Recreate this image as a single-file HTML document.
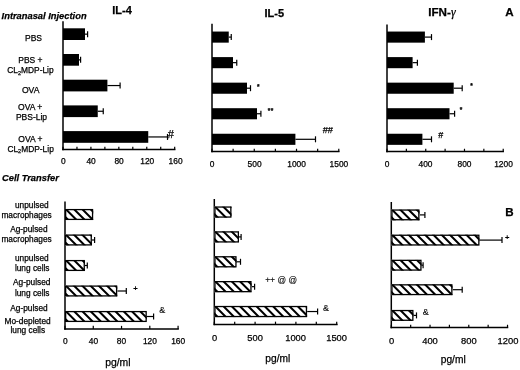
<!DOCTYPE html>
<html><head><meta charset="utf-8"><title>Figure</title>
<style>
html,body{margin:0;padding:0;background:#fff;}
body{width:520px;height:370px;overflow:hidden;}
svg{display:block;font-family:'Liberation Sans', sans-serif;fill:#000;}
text{stroke:#000;stroke-width:0.25px;}
</style></head><body>
<svg width="520" height="370" viewBox="0 0 520 370">
<rect x="0" y="0" width="520" height="370" fill="#fff"/>
<line x1="63.00" y1="21.30" x2="63.00" y2="150.25" stroke="#000" stroke-width="1.5"/>
<line x1="62.25" y1="149.50" x2="175.45" y2="149.50" stroke="#000" stroke-width="1.5"/>
<line x1="63.00" y1="149.50" x2="63.00" y2="146.75" stroke="#000" stroke-width="1.2"/>
<line x1="76.96" y1="149.50" x2="76.96" y2="146.75" stroke="#000" stroke-width="1.2"/>
<line x1="90.92" y1="149.50" x2="90.92" y2="146.75" stroke="#000" stroke-width="1.2"/>
<line x1="104.88" y1="149.50" x2="104.88" y2="146.75" stroke="#000" stroke-width="1.2"/>
<line x1="118.84" y1="149.50" x2="118.84" y2="146.75" stroke="#000" stroke-width="1.2"/>
<line x1="132.80" y1="149.50" x2="132.80" y2="146.75" stroke="#000" stroke-width="1.2"/>
<line x1="146.76" y1="149.50" x2="146.76" y2="146.75" stroke="#000" stroke-width="1.2"/>
<line x1="160.72" y1="149.50" x2="160.72" y2="146.75" stroke="#000" stroke-width="1.2"/>
<line x1="174.68" y1="149.50" x2="174.68" y2="146.75" stroke="#000" stroke-width="1.2"/>
<line x1="85.00" y1="34.15" x2="87.60" y2="34.15" stroke="#000" stroke-width="1.2"/>
<line x1="87.60" y1="31.15" x2="87.60" y2="37.15" stroke="#000" stroke-width="1.2"/>
<rect x="63.00" y="28.30" width="22.00" height="11.70" fill="#000"/>
<line x1="79.00" y1="59.85" x2="80.60" y2="59.85" stroke="#000" stroke-width="1.2"/>
<line x1="80.60" y1="56.85" x2="80.60" y2="62.85" stroke="#000" stroke-width="1.2"/>
<rect x="63.00" y="54.00" width="16.00" height="11.70" fill="#000"/>
<line x1="107.40" y1="85.55" x2="120.10" y2="85.55" stroke="#000" stroke-width="1.2"/>
<line x1="120.10" y1="82.55" x2="120.10" y2="88.55" stroke="#000" stroke-width="1.2"/>
<rect x="63.00" y="79.70" width="44.40" height="11.70" fill="#000"/>
<line x1="97.75" y1="111.25" x2="103.25" y2="111.25" stroke="#000" stroke-width="1.2"/>
<line x1="103.25" y1="108.25" x2="103.25" y2="114.25" stroke="#000" stroke-width="1.2"/>
<rect x="63.00" y="105.40" width="34.75" height="11.70" fill="#000"/>
<line x1="148.25" y1="136.95" x2="167.50" y2="136.95" stroke="#000" stroke-width="1.2"/>
<line x1="167.50" y1="133.95" x2="167.50" y2="139.95" stroke="#000" stroke-width="1.2"/>
<rect x="63.00" y="131.10" width="85.25" height="11.70" fill="#000"/>
<text x="63.30" y="164.20" font-size="8.4" text-anchor="middle" font-weight="normal" font-style="normal" >0</text>
<text x="91.10" y="164.20" font-size="8.4" text-anchor="middle" font-weight="normal" font-style="normal" >40</text>
<text x="119.10" y="164.20" font-size="8.4" text-anchor="middle" font-weight="normal" font-style="normal" >80</text>
<text x="147.30" y="164.20" font-size="8.4" text-anchor="middle" font-weight="normal" font-style="normal" >120</text>
<text x="175.60" y="164.20" font-size="8.4" text-anchor="middle" font-weight="normal" font-style="normal" >160</text>
<line x1="212.00" y1="23.75" x2="212.00" y2="152.25" stroke="#000" stroke-width="1.5"/>
<line x1="211.25" y1="151.50" x2="339.55" y2="151.50" stroke="#000" stroke-width="1.5"/>
<line x1="212.00" y1="151.50" x2="212.00" y2="148.75" stroke="#000" stroke-width="1.2"/>
<line x1="233.13" y1="151.50" x2="233.13" y2="148.75" stroke="#000" stroke-width="1.2"/>
<line x1="254.26" y1="151.50" x2="254.26" y2="148.75" stroke="#000" stroke-width="1.2"/>
<line x1="275.39" y1="151.50" x2="275.39" y2="148.75" stroke="#000" stroke-width="1.2"/>
<line x1="296.52" y1="151.50" x2="296.52" y2="148.75" stroke="#000" stroke-width="1.2"/>
<line x1="317.65" y1="151.50" x2="317.65" y2="148.75" stroke="#000" stroke-width="1.2"/>
<line x1="338.78" y1="151.50" x2="338.78" y2="148.75" stroke="#000" stroke-width="1.2"/>
<line x1="228.75" y1="37.10" x2="231.25" y2="37.10" stroke="#000" stroke-width="1.2"/>
<line x1="231.25" y1="34.10" x2="231.25" y2="40.10" stroke="#000" stroke-width="1.2"/>
<rect x="212.00" y="31.55" width="16.75" height="11.10" fill="#000"/>
<line x1="233.00" y1="62.65" x2="236.75" y2="62.65" stroke="#000" stroke-width="1.2"/>
<line x1="236.75" y1="59.65" x2="236.75" y2="65.65" stroke="#000" stroke-width="1.2"/>
<rect x="212.00" y="57.10" width="21.00" height="11.10" fill="#000"/>
<line x1="247.00" y1="88.20" x2="250.50" y2="88.20" stroke="#000" stroke-width="1.2"/>
<line x1="250.50" y1="85.20" x2="250.50" y2="91.20" stroke="#000" stroke-width="1.2"/>
<rect x="212.00" y="82.65" width="35.00" height="11.10" fill="#000"/>
<line x1="257.00" y1="113.75" x2="260.90" y2="113.75" stroke="#000" stroke-width="1.2"/>
<line x1="260.90" y1="110.75" x2="260.90" y2="116.75" stroke="#000" stroke-width="1.2"/>
<rect x="212.00" y="108.20" width="45.00" height="11.10" fill="#000"/>
<line x1="295.40" y1="139.30" x2="315.50" y2="139.30" stroke="#000" stroke-width="1.2"/>
<line x1="315.50" y1="136.30" x2="315.50" y2="142.30" stroke="#000" stroke-width="1.2"/>
<rect x="212.00" y="133.75" width="83.40" height="11.10" fill="#000"/>
<text x="212.00" y="167.40" font-size="8.4" text-anchor="middle" font-weight="normal" font-style="normal" >0</text>
<text x="254.60" y="167.40" font-size="8.4" text-anchor="middle" font-weight="normal" font-style="normal" >500</text>
<text x="296.60" y="167.40" font-size="8.4" text-anchor="middle" font-weight="normal" font-style="normal" >1000</text>
<text x="338.90" y="167.40" font-size="8.4" text-anchor="middle" font-weight="normal" font-style="normal" >1500</text>
<line x1="387.00" y1="24.60" x2="387.00" y2="152.25" stroke="#000" stroke-width="1.5"/>
<line x1="386.25" y1="151.50" x2="503.95" y2="151.50" stroke="#000" stroke-width="1.5"/>
<line x1="387.00" y1="151.50" x2="387.00" y2="148.75" stroke="#000" stroke-width="1.2"/>
<line x1="406.37" y1="151.50" x2="406.37" y2="148.75" stroke="#000" stroke-width="1.2"/>
<line x1="425.74" y1="151.50" x2="425.74" y2="148.75" stroke="#000" stroke-width="1.2"/>
<line x1="445.11" y1="151.50" x2="445.11" y2="148.75" stroke="#000" stroke-width="1.2"/>
<line x1="464.48" y1="151.50" x2="464.48" y2="148.75" stroke="#000" stroke-width="1.2"/>
<line x1="483.85" y1="151.50" x2="483.85" y2="148.75" stroke="#000" stroke-width="1.2"/>
<line x1="503.22" y1="151.50" x2="503.22" y2="148.75" stroke="#000" stroke-width="1.2"/>
<line x1="424.90" y1="37.10" x2="431.50" y2="37.10" stroke="#000" stroke-width="1.2"/>
<line x1="431.50" y1="34.10" x2="431.50" y2="40.10" stroke="#000" stroke-width="1.2"/>
<rect x="387.00" y="31.55" width="37.90" height="11.10" fill="#000"/>
<line x1="412.60" y1="62.65" x2="417.40" y2="62.65" stroke="#000" stroke-width="1.2"/>
<line x1="417.40" y1="59.65" x2="417.40" y2="65.65" stroke="#000" stroke-width="1.2"/>
<rect x="387.00" y="57.10" width="25.60" height="11.10" fill="#000"/>
<line x1="453.70" y1="88.20" x2="462.20" y2="88.20" stroke="#000" stroke-width="1.2"/>
<line x1="462.20" y1="85.20" x2="462.20" y2="91.20" stroke="#000" stroke-width="1.2"/>
<rect x="387.00" y="82.65" width="66.70" height="11.10" fill="#000"/>
<line x1="449.50" y1="113.75" x2="454.60" y2="113.75" stroke="#000" stroke-width="1.2"/>
<line x1="454.60" y1="110.75" x2="454.60" y2="116.75" stroke="#000" stroke-width="1.2"/>
<rect x="387.00" y="108.20" width="62.50" height="11.10" fill="#000"/>
<line x1="422.40" y1="139.30" x2="431.50" y2="139.30" stroke="#000" stroke-width="1.2"/>
<line x1="431.50" y1="136.30" x2="431.50" y2="142.30" stroke="#000" stroke-width="1.2"/>
<rect x="387.00" y="133.75" width="35.40" height="11.10" fill="#000"/>
<text x="387.00" y="167.40" font-size="8.4" text-anchor="middle" font-weight="normal" font-style="normal" >0</text>
<text x="425.50" y="167.40" font-size="8.4" text-anchor="middle" font-weight="normal" font-style="normal" >400</text>
<text x="464.50" y="167.40" font-size="8.4" text-anchor="middle" font-weight="normal" font-style="normal" >800</text>
<text x="503.50" y="167.40" font-size="8.4" text-anchor="middle" font-weight="normal" font-style="normal" >1200</text>
<line x1="65.00" y1="201.50" x2="65.00" y2="329.75" stroke="#000" stroke-width="1.5"/>
<line x1="64.25" y1="329.00" x2="178.85" y2="329.00" stroke="#000" stroke-width="1.5"/>
<line x1="65.00" y1="329.00" x2="65.00" y2="325.85" stroke="#000" stroke-width="1.2"/>
<line x1="93.27" y1="329.00" x2="93.27" y2="325.85" stroke="#000" stroke-width="1.2"/>
<line x1="121.54" y1="329.00" x2="121.54" y2="325.85" stroke="#000" stroke-width="1.2"/>
<line x1="149.81" y1="329.00" x2="149.81" y2="325.85" stroke="#000" stroke-width="1.2"/>
<line x1="178.08" y1="329.00" x2="178.08" y2="325.85" stroke="#000" stroke-width="1.2"/>
<clipPath id="c1"><rect x="65.00" y="208.95" width="28.20" height="11.10"/></clipPath>
<rect x="65.00" y="208.95" width="28.20" height="11.10" fill="#fff"/>
<path d="M39.35 208.95h2.9l11.10 11.10h-2.9zM47.60 208.95h2.9l11.10 11.10h-2.9zM55.85 208.95h2.9l11.10 11.10h-2.9zM64.10 208.95h2.9l11.10 11.10h-2.9zM72.35 208.95h2.9l11.10 11.10h-2.9zM80.60 208.95h2.9l11.10 11.10h-2.9zM88.85 208.95h2.9l11.10 11.10h-2.9z" fill="#000" clip-path="url(#c1)"/>
<rect x="65.65" y="209.60" width="26.90" height="9.80" fill="none" stroke="#000" stroke-width="1.3"/>
<line x1="91.90" y1="240.00" x2="94.60" y2="240.00" stroke="#000" stroke-width="1.2"/>
<line x1="94.60" y1="237.00" x2="94.60" y2="243.00" stroke="#000" stroke-width="1.2"/>
<clipPath id="c2"><rect x="65.00" y="234.45" width="26.90" height="11.10"/></clipPath>
<rect x="65.00" y="234.45" width="26.90" height="11.10" fill="#fff"/>
<path d="M39.35 234.45h2.9l11.10 11.10h-2.9zM47.60 234.45h2.9l11.10 11.10h-2.9zM55.85 234.45h2.9l11.10 11.10h-2.9zM64.10 234.45h2.9l11.10 11.10h-2.9zM72.35 234.45h2.9l11.10 11.10h-2.9zM80.60 234.45h2.9l11.10 11.10h-2.9zM88.85 234.45h2.9l11.10 11.10h-2.9z" fill="#000" clip-path="url(#c2)"/>
<rect x="65.65" y="235.10" width="25.60" height="9.80" fill="none" stroke="#000" stroke-width="1.3"/>
<line x1="84.90" y1="265.50" x2="87.30" y2="265.50" stroke="#000" stroke-width="1.2"/>
<line x1="87.30" y1="262.50" x2="87.30" y2="268.50" stroke="#000" stroke-width="1.2"/>
<clipPath id="c3"><rect x="65.00" y="259.95" width="19.90" height="11.10"/></clipPath>
<rect x="65.00" y="259.95" width="19.90" height="11.10" fill="#fff"/>
<path d="M39.35 259.95h2.9l11.10 11.10h-2.9zM47.60 259.95h2.9l11.10 11.10h-2.9zM55.85 259.95h2.9l11.10 11.10h-2.9zM64.10 259.95h2.9l11.10 11.10h-2.9zM72.35 259.95h2.9l11.10 11.10h-2.9zM80.60 259.95h2.9l11.10 11.10h-2.9z" fill="#000" clip-path="url(#c3)"/>
<rect x="65.65" y="260.60" width="18.60" height="9.80" fill="none" stroke="#000" stroke-width="1.3"/>
<line x1="117.25" y1="291.00" x2="126.30" y2="291.00" stroke="#000" stroke-width="1.2"/>
<line x1="126.30" y1="288.00" x2="126.30" y2="294.00" stroke="#000" stroke-width="1.2"/>
<clipPath id="c4"><rect x="65.00" y="285.45" width="52.25" height="11.10"/></clipPath>
<rect x="65.00" y="285.45" width="52.25" height="11.10" fill="#fff"/>
<path d="M39.35 285.45h2.9l11.10 11.10h-2.9zM47.60 285.45h2.9l11.10 11.10h-2.9zM55.85 285.45h2.9l11.10 11.10h-2.9zM64.10 285.45h2.9l11.10 11.10h-2.9zM72.35 285.45h2.9l11.10 11.10h-2.9zM80.60 285.45h2.9l11.10 11.10h-2.9zM88.85 285.45h2.9l11.10 11.10h-2.9zM97.10 285.45h2.9l11.10 11.10h-2.9zM105.35 285.45h2.9l11.10 11.10h-2.9zM113.60 285.45h2.9l11.10 11.10h-2.9z" fill="#000" clip-path="url(#c4)"/>
<rect x="65.65" y="286.10" width="50.95" height="9.80" fill="none" stroke="#000" stroke-width="1.3"/>
<line x1="146.80" y1="316.50" x2="153.60" y2="316.50" stroke="#000" stroke-width="1.2"/>
<line x1="153.60" y1="313.50" x2="153.60" y2="319.50" stroke="#000" stroke-width="1.2"/>
<clipPath id="c5"><rect x="65.00" y="310.95" width="81.80" height="11.10"/></clipPath>
<rect x="65.00" y="310.95" width="81.80" height="11.10" fill="#fff"/>
<path d="M39.35 310.95h2.9l11.10 11.10h-2.9zM47.60 310.95h2.9l11.10 11.10h-2.9zM55.85 310.95h2.9l11.10 11.10h-2.9zM64.10 310.95h2.9l11.10 11.10h-2.9zM72.35 310.95h2.9l11.10 11.10h-2.9zM80.60 310.95h2.9l11.10 11.10h-2.9zM88.85 310.95h2.9l11.10 11.10h-2.9zM97.10 310.95h2.9l11.10 11.10h-2.9zM105.35 310.95h2.9l11.10 11.10h-2.9zM113.60 310.95h2.9l11.10 11.10h-2.9zM121.85 310.95h2.9l11.10 11.10h-2.9zM130.10 310.95h2.9l11.10 11.10h-2.9zM138.35 310.95h2.9l11.10 11.10h-2.9zM146.60 310.95h2.9l11.10 11.10h-2.9z" fill="#000" clip-path="url(#c5)"/>
<rect x="65.65" y="311.60" width="80.50" height="9.80" fill="none" stroke="#000" stroke-width="1.3"/>
<text x="65.25" y="344.20" font-size="8.4" text-anchor="middle" font-weight="normal" font-style="normal" >0</text>
<text x="93.40" y="344.20" font-size="8.4" text-anchor="middle" font-weight="normal" font-style="normal" >40</text>
<text x="121.40" y="344.20" font-size="8.4" text-anchor="middle" font-weight="normal" font-style="normal" >80</text>
<text x="149.90" y="344.20" font-size="8.4" text-anchor="middle" font-weight="normal" font-style="normal" >120</text>
<text x="178.20" y="344.20" font-size="8.4" text-anchor="middle" font-weight="normal" font-style="normal" >160</text>
<line x1="214.30" y1="199.00" x2="214.30" y2="325.15" stroke="#000" stroke-width="1.5"/>
<line x1="213.55" y1="324.40" x2="337.65" y2="324.40" stroke="#000" stroke-width="1.5"/>
<line x1="214.30" y1="324.40" x2="214.30" y2="321.65" stroke="#000" stroke-width="1.2"/>
<line x1="234.70" y1="324.40" x2="234.70" y2="321.65" stroke="#000" stroke-width="1.2"/>
<line x1="255.10" y1="324.40" x2="255.10" y2="321.65" stroke="#000" stroke-width="1.2"/>
<line x1="275.50" y1="324.40" x2="275.50" y2="321.65" stroke="#000" stroke-width="1.2"/>
<line x1="295.90" y1="324.40" x2="295.90" y2="321.65" stroke="#000" stroke-width="1.2"/>
<line x1="316.30" y1="324.40" x2="316.30" y2="321.65" stroke="#000" stroke-width="1.2"/>
<line x1="336.70" y1="324.40" x2="336.70" y2="321.65" stroke="#000" stroke-width="1.2"/>
<clipPath id="c6"><rect x="214.30" y="206.40" width="17.20" height="11.30"/></clipPath>
<rect x="214.30" y="206.40" width="17.20" height="11.30" fill="#fff"/>
<path d="M188.65 206.40h2.9l11.30 11.30h-2.9zM196.90 206.40h2.9l11.30 11.30h-2.9zM205.15 206.40h2.9l11.30 11.30h-2.9zM213.40 206.40h2.9l11.30 11.30h-2.9zM221.65 206.40h2.9l11.30 11.30h-2.9zM229.90 206.40h2.9l11.30 11.30h-2.9z" fill="#000" clip-path="url(#c6)"/>
<rect x="214.95" y="207.05" width="15.90" height="10.00" fill="none" stroke="#000" stroke-width="1.3"/>
<line x1="239.00" y1="236.92" x2="241.10" y2="236.92" stroke="#000" stroke-width="1.2"/>
<line x1="241.10" y1="233.92" x2="241.10" y2="239.92" stroke="#000" stroke-width="1.2"/>
<clipPath id="c7"><rect x="214.30" y="231.27" width="24.70" height="11.30"/></clipPath>
<rect x="214.30" y="231.27" width="24.70" height="11.30" fill="#fff"/>
<path d="M188.65 231.27h2.9l11.30 11.30h-2.9zM196.90 231.27h2.9l11.30 11.30h-2.9zM205.15 231.27h2.9l11.30 11.30h-2.9zM213.40 231.27h2.9l11.30 11.30h-2.9zM221.65 231.27h2.9l11.30 11.30h-2.9zM229.90 231.27h2.9l11.30 11.30h-2.9zM238.15 231.27h2.9l11.30 11.30h-2.9z" fill="#000" clip-path="url(#c7)"/>
<rect x="214.95" y="231.92" width="23.40" height="10.00" fill="none" stroke="#000" stroke-width="1.3"/>
<line x1="236.60" y1="261.79" x2="240.50" y2="261.79" stroke="#000" stroke-width="1.2"/>
<line x1="240.50" y1="258.79" x2="240.50" y2="264.79" stroke="#000" stroke-width="1.2"/>
<clipPath id="c8"><rect x="214.30" y="256.14" width="22.30" height="11.30"/></clipPath>
<rect x="214.30" y="256.14" width="22.30" height="11.30" fill="#fff"/>
<path d="M188.65 256.14h2.9l11.30 11.30h-2.9zM196.90 256.14h2.9l11.30 11.30h-2.9zM205.15 256.14h2.9l11.30 11.30h-2.9zM213.40 256.14h2.9l11.30 11.30h-2.9zM221.65 256.14h2.9l11.30 11.30h-2.9zM229.90 256.14h2.9l11.30 11.30h-2.9z" fill="#000" clip-path="url(#c8)"/>
<rect x="214.95" y="256.79" width="21.00" height="10.00" fill="none" stroke="#000" stroke-width="1.3"/>
<line x1="251.60" y1="286.66" x2="254.60" y2="286.66" stroke="#000" stroke-width="1.2"/>
<line x1="254.60" y1="283.66" x2="254.60" y2="289.66" stroke="#000" stroke-width="1.2"/>
<clipPath id="c9"><rect x="214.30" y="281.01" width="37.30" height="11.30"/></clipPath>
<rect x="214.30" y="281.01" width="37.30" height="11.30" fill="#fff"/>
<path d="M188.65 281.01h2.9l11.30 11.30h-2.9zM196.90 281.01h2.9l11.30 11.30h-2.9zM205.15 281.01h2.9l11.30 11.30h-2.9zM213.40 281.01h2.9l11.30 11.30h-2.9zM221.65 281.01h2.9l11.30 11.30h-2.9zM229.90 281.01h2.9l11.30 11.30h-2.9zM238.15 281.01h2.9l11.30 11.30h-2.9zM246.40 281.01h2.9l11.30 11.30h-2.9z" fill="#000" clip-path="url(#c9)"/>
<rect x="214.95" y="281.66" width="36.00" height="10.00" fill="none" stroke="#000" stroke-width="1.3"/>
<line x1="307.10" y1="311.53" x2="317.60" y2="311.53" stroke="#000" stroke-width="1.2"/>
<line x1="317.60" y1="308.53" x2="317.60" y2="314.53" stroke="#000" stroke-width="1.2"/>
<clipPath id="c10"><rect x="214.30" y="305.88" width="92.80" height="11.30"/></clipPath>
<rect x="214.30" y="305.88" width="92.80" height="11.30" fill="#fff"/>
<path d="M188.65 305.88h2.9l11.30 11.30h-2.9zM196.90 305.88h2.9l11.30 11.30h-2.9zM205.15 305.88h2.9l11.30 11.30h-2.9zM213.40 305.88h2.9l11.30 11.30h-2.9zM221.65 305.88h2.9l11.30 11.30h-2.9zM229.90 305.88h2.9l11.30 11.30h-2.9zM238.15 305.88h2.9l11.30 11.30h-2.9zM246.40 305.88h2.9l11.30 11.30h-2.9zM254.65 305.88h2.9l11.30 11.30h-2.9zM262.90 305.88h2.9l11.30 11.30h-2.9zM271.15 305.88h2.9l11.30 11.30h-2.9zM279.40 305.88h2.9l11.30 11.30h-2.9zM287.65 305.88h2.9l11.30 11.30h-2.9zM295.90 305.88h2.9l11.30 11.30h-2.9zM304.15 305.88h2.9l11.30 11.30h-2.9z" fill="#000" clip-path="url(#c10)"/>
<rect x="214.95" y="306.53" width="91.50" height="10.00" fill="none" stroke="#000" stroke-width="1.3"/>
<text x="214.50" y="341.20" font-size="9.3" text-anchor="middle" font-weight="normal" font-style="normal" >0</text>
<text x="255.10" y="341.20" font-size="9.3" text-anchor="middle" font-weight="normal" font-style="normal" >500</text>
<text x="295.60" y="341.20" font-size="9.3" text-anchor="middle" font-weight="normal" font-style="normal" >1000</text>
<text x="336.60" y="341.20" font-size="9.3" text-anchor="middle" font-weight="normal" font-style="normal" >1500</text>
<line x1="391.30" y1="202.00" x2="391.30" y2="328.25" stroke="#000" stroke-width="1.5"/>
<line x1="390.55" y1="327.50" x2="508.25" y2="327.50" stroke="#000" stroke-width="1.5"/>
<line x1="391.30" y1="327.50" x2="391.30" y2="324.75" stroke="#000" stroke-width="1.2"/>
<line x1="410.67" y1="327.50" x2="410.67" y2="324.75" stroke="#000" stroke-width="1.2"/>
<line x1="430.04" y1="327.50" x2="430.04" y2="324.75" stroke="#000" stroke-width="1.2"/>
<line x1="449.41" y1="327.50" x2="449.41" y2="324.75" stroke="#000" stroke-width="1.2"/>
<line x1="468.78" y1="327.50" x2="468.78" y2="324.75" stroke="#000" stroke-width="1.2"/>
<line x1="488.15" y1="327.50" x2="488.15" y2="324.75" stroke="#000" stroke-width="1.2"/>
<line x1="507.52" y1="327.50" x2="507.52" y2="324.75" stroke="#000" stroke-width="1.2"/>
<line x1="419.50" y1="214.90" x2="424.90" y2="214.90" stroke="#000" stroke-width="1.2"/>
<line x1="424.90" y1="211.90" x2="424.90" y2="217.90" stroke="#000" stroke-width="1.2"/>
<clipPath id="c11"><rect x="391.30" y="209.40" width="28.20" height="11.00"/></clipPath>
<rect x="391.30" y="209.40" width="28.20" height="11.00" fill="#fff"/>
<path d="M365.65 209.40h2.9l11.00 11.00h-2.9zM373.90 209.40h2.9l11.00 11.00h-2.9zM382.15 209.40h2.9l11.00 11.00h-2.9zM390.40 209.40h2.9l11.00 11.00h-2.9zM398.65 209.40h2.9l11.00 11.00h-2.9zM406.90 209.40h2.9l11.00 11.00h-2.9zM415.15 209.40h2.9l11.00 11.00h-2.9z" fill="#000" clip-path="url(#c11)"/>
<rect x="391.95" y="210.05" width="26.90" height="9.70" fill="none" stroke="#000" stroke-width="1.3"/>
<line x1="479.50" y1="240.10" x2="502.00" y2="240.10" stroke="#000" stroke-width="1.2"/>
<line x1="502.00" y1="237.10" x2="502.00" y2="243.10" stroke="#000" stroke-width="1.2"/>
<clipPath id="c12"><rect x="391.30" y="234.60" width="88.20" height="11.00"/></clipPath>
<rect x="391.30" y="234.60" width="88.20" height="11.00" fill="#fff"/>
<path d="M365.65 234.60h2.9l11.00 11.00h-2.9zM373.90 234.60h2.9l11.00 11.00h-2.9zM382.15 234.60h2.9l11.00 11.00h-2.9zM390.40 234.60h2.9l11.00 11.00h-2.9zM398.65 234.60h2.9l11.00 11.00h-2.9zM406.90 234.60h2.9l11.00 11.00h-2.9zM415.15 234.60h2.9l11.00 11.00h-2.9zM423.40 234.60h2.9l11.00 11.00h-2.9zM431.65 234.60h2.9l11.00 11.00h-2.9zM439.90 234.60h2.9l11.00 11.00h-2.9zM448.15 234.60h2.9l11.00 11.00h-2.9zM456.40 234.60h2.9l11.00 11.00h-2.9zM464.65 234.60h2.9l11.00 11.00h-2.9zM472.90 234.60h2.9l11.00 11.00h-2.9z" fill="#000" clip-path="url(#c12)"/>
<rect x="391.95" y="235.25" width="86.90" height="9.70" fill="none" stroke="#000" stroke-width="1.3"/>
<line x1="421.60" y1="265.20" x2="423.10" y2="265.20" stroke="#000" stroke-width="1.2"/>
<line x1="423.10" y1="262.20" x2="423.10" y2="268.20" stroke="#000" stroke-width="1.2"/>
<clipPath id="c13"><rect x="391.30" y="259.70" width="30.30" height="11.00"/></clipPath>
<rect x="391.30" y="259.70" width="30.30" height="11.00" fill="#fff"/>
<path d="M365.65 259.70h2.9l11.00 11.00h-2.9zM373.90 259.70h2.9l11.00 11.00h-2.9zM382.15 259.70h2.9l11.00 11.00h-2.9zM390.40 259.70h2.9l11.00 11.00h-2.9zM398.65 259.70h2.9l11.00 11.00h-2.9zM406.90 259.70h2.9l11.00 11.00h-2.9zM415.15 259.70h2.9l11.00 11.00h-2.9z" fill="#000" clip-path="url(#c13)"/>
<rect x="391.95" y="260.35" width="29.00" height="9.70" fill="none" stroke="#000" stroke-width="1.3"/>
<line x1="452.50" y1="289.70" x2="462.20" y2="289.70" stroke="#000" stroke-width="1.2"/>
<line x1="462.20" y1="286.70" x2="462.20" y2="292.70" stroke="#000" stroke-width="1.2"/>
<clipPath id="c14"><rect x="391.30" y="284.20" width="61.20" height="11.00"/></clipPath>
<rect x="391.30" y="284.20" width="61.20" height="11.00" fill="#fff"/>
<path d="M365.65 284.20h2.9l11.00 11.00h-2.9zM373.90 284.20h2.9l11.00 11.00h-2.9zM382.15 284.20h2.9l11.00 11.00h-2.9zM390.40 284.20h2.9l11.00 11.00h-2.9zM398.65 284.20h2.9l11.00 11.00h-2.9zM406.90 284.20h2.9l11.00 11.00h-2.9zM415.15 284.20h2.9l11.00 11.00h-2.9zM423.40 284.20h2.9l11.00 11.00h-2.9zM431.65 284.20h2.9l11.00 11.00h-2.9zM439.90 284.20h2.9l11.00 11.00h-2.9zM448.15 284.20h2.9l11.00 11.00h-2.9z" fill="#000" clip-path="url(#c14)"/>
<rect x="391.95" y="284.85" width="59.90" height="9.70" fill="none" stroke="#000" stroke-width="1.3"/>
<line x1="413.50" y1="315.40" x2="416.50" y2="315.40" stroke="#000" stroke-width="1.2"/>
<line x1="416.50" y1="312.40" x2="416.50" y2="318.40" stroke="#000" stroke-width="1.2"/>
<clipPath id="c15"><rect x="391.30" y="309.90" width="22.20" height="11.00"/></clipPath>
<rect x="391.30" y="309.90" width="22.20" height="11.00" fill="#fff"/>
<path d="M365.65 309.90h2.9l11.00 11.00h-2.9zM373.90 309.90h2.9l11.00 11.00h-2.9zM382.15 309.90h2.9l11.00 11.00h-2.9zM390.40 309.90h2.9l11.00 11.00h-2.9zM398.65 309.90h2.9l11.00 11.00h-2.9zM406.90 309.90h2.9l11.00 11.00h-2.9z" fill="#000" clip-path="url(#c15)"/>
<rect x="391.95" y="310.55" width="20.90" height="9.70" fill="none" stroke="#000" stroke-width="1.3"/>
<text x="391.60" y="344.00" font-size="9.4" text-anchor="middle" font-weight="normal" font-style="normal" >0</text>
<text x="430.00" y="344.00" font-size="9.4" text-anchor="middle" font-weight="normal" font-style="normal" >400</text>
<text x="468.80" y="344.00" font-size="9.4" text-anchor="middle" font-weight="normal" font-style="normal" >800</text>
<text x="508.00" y="344.00" font-size="9.4" text-anchor="middle" font-weight="normal" font-style="normal" >1200</text>
<text x="1.60" y="19.30" font-size="9.7" text-anchor="start" font-weight="bold" font-style="italic" textLength="85" lengthAdjust="spacingAndGlyphs">Intranasal Injection</text>
<text x="2.00" y="180.80" font-size="9.7" text-anchor="start" font-weight="bold" font-style="italic" textLength="56.8" lengthAdjust="spacingAndGlyphs">Cell Transfer</text>
<text x="122.00" y="13.90" font-size="11" text-anchor="middle" font-weight="bold" font-style="normal" >IL-4</text>
<text x="274.30" y="17.00" font-size="11" text-anchor="middle" font-weight="bold" font-style="normal" >IL-5</text>
<text x="428.20" y="15.50" font-size="10.5" text-anchor="start" font-weight="bold" font-style="normal" textLength="22.6" lengthAdjust="spacingAndGlyphs">IFN-</text>
<text x="451.00" y="15.50" font-size="12" text-anchor="start" font-weight="normal" font-style="italic" font-family="Liberation Serif, serif">γ</text>
<text x="505.30" y="15.50" font-size="11.2" text-anchor="start" font-weight="bold" font-style="normal" textLength="8.4" lengthAdjust="spacingAndGlyphs">A</text>
<text x="509.40" y="216.30" font-size="11.6" text-anchor="middle" font-weight="bold" font-style="normal" >B</text>
<text x="33.50" y="41.20" font-size="8.5" text-anchor="middle" font-weight="normal" font-style="normal" >PBS</text>
<text x="30.40" y="62.80" font-size="8.5" text-anchor="middle" font-weight="normal" font-style="normal" >PBS +</text>
<text x="30.40" y="73.40" font-size="8.4" text-anchor="middle" font-weight="normal" font-style="normal" >CL<tspan font-size="5.6" dy="1.6">2</tspan><tspan dy="-1.6">MDP-Lip</tspan></text>
<text x="30.70" y="93.00" font-size="8.6" text-anchor="middle" font-weight="normal" font-style="normal" >OVA</text>
<text x="30.20" y="109.60" font-size="8.5" text-anchor="middle" font-weight="normal" font-style="normal" >OVA +</text>
<text x="31.50" y="120.20" font-size="8.5" text-anchor="middle" font-weight="normal" font-style="normal" >PBS-Lip</text>
<text x="30.40" y="141.80" font-size="8.5" text-anchor="middle" font-weight="normal" font-style="normal" >OVA +</text>
<text x="30.60" y="151.60" font-size="8.4" text-anchor="middle" font-weight="normal" font-style="normal" >CL<tspan font-size="5.6" dy="1.6">2</tspan><tspan dy="-1.6">MDP-Lip</tspan></text>
<text x="31.80" y="208.00" font-size="8.3" text-anchor="middle" font-weight="normal" font-style="normal" >unpulsed</text>
<text x="26.60" y="218.40" font-size="8.3" text-anchor="middle" font-weight="normal" font-style="normal" >macrophages</text>
<text x="28.90" y="232.40" font-size="8.3" text-anchor="middle" font-weight="normal" font-style="normal" >Ag-pulsed</text>
<text x="26.60" y="242.40" font-size="8.3" text-anchor="middle" font-weight="normal" font-style="normal" >macrophages</text>
<text x="31.80" y="260.80" font-size="8.3" text-anchor="middle" font-weight="normal" font-style="normal" >unpulsed</text>
<text x="32.20" y="270.80" font-size="8.3" text-anchor="middle" font-weight="normal" font-style="normal" >lung cells</text>
<text x="31.70" y="285.40" font-size="8.3" text-anchor="middle" font-weight="normal" font-style="normal" >Ag-pulsed</text>
<text x="32.20" y="295.80" font-size="8.3" text-anchor="middle" font-weight="normal" font-style="normal" >lung cells</text>
<text x="29.00" y="310.90" font-size="8.3" text-anchor="middle" font-weight="normal" font-style="normal" >Ag-pulsed</text>
<text x="27.60" y="323.65" font-size="8.3" text-anchor="middle" font-weight="normal" font-style="normal" >Mo-depleted</text>
<text x="27.80" y="332.90" font-size="8.3" text-anchor="middle" font-weight="normal" font-style="normal" >lung cells</text>
<text x="117.85" y="365.50" font-size="10.4" text-anchor="middle" font-weight="normal" font-style="normal" >pg/ml</text>
<text x="277.80" y="362.00" font-size="10.2" text-anchor="middle" font-weight="normal" font-style="normal" >pg/ml</text>
<text x="453.20" y="362.50" font-size="10.2" text-anchor="middle" font-weight="normal" font-style="normal" >pg/ml</text>
<text x="170.80" y="138.00" font-size="11" text-anchor="middle" font-weight="normal" font-style="normal" >#</text>
<text x="258.20" y="88.70" font-size="6.5" text-anchor="middle" font-weight="bold" font-style="normal" >*</text>
<text x="270.80" y="113.00" font-size="6.5" text-anchor="middle" font-weight="bold" font-style="normal" letter-spacing="0.6">**</text>
<text x="327.80" y="132.50" font-size="9.3" text-anchor="middle" font-weight="normal" font-style="normal" >##</text>
<text x="471.50" y="87.80" font-size="6.5" text-anchor="middle" font-weight="bold" font-style="normal" >*</text>
<text x="460.90" y="111.80" font-size="6.5" text-anchor="middle" font-weight="bold" font-style="normal" >*</text>
<text x="440.70" y="138.00" font-size="9" text-anchor="middle" font-weight="normal" font-style="normal" >#</text>
<text x="135.40" y="291.20" font-size="7.6" text-anchor="middle" font-weight="bold" font-style="normal" style="stroke-width:0.1px">+</text>
<text x="162.20" y="312.60" font-size="9" text-anchor="middle" font-weight="normal" font-style="normal" style="stroke-width:0.1px">&amp;</text>
<text x="281.10" y="282.50" font-size="8.5" text-anchor="middle" font-weight="normal" font-style="normal" style="stroke-width:0.1px">++ @ @</text>
<text x="326.00" y="310.80" font-size="9" text-anchor="middle" font-weight="normal" font-style="normal" style="stroke-width:0.1px">&amp;</text>
<text x="507.10" y="240.40" font-size="7.6" text-anchor="middle" font-weight="bold" font-style="normal" style="stroke-width:0.1px">+</text>
<text x="425.80" y="314.70" font-size="9" text-anchor="middle" font-weight="normal" font-style="normal" style="stroke-width:0.1px">&amp;</text>
</svg>
</body></html>
